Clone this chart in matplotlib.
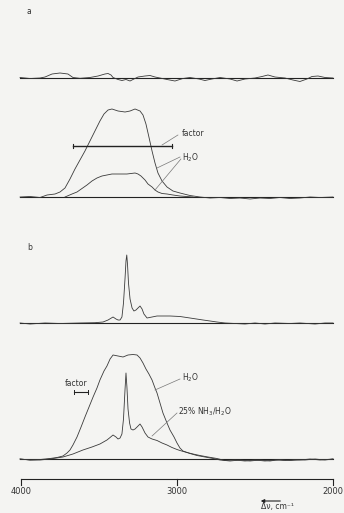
import matplotlib
matplotlib.use("Agg")
import matplotlib.pyplot as plt
import numpy as np

# ---------------- data (wavenumber, cm^-1 ; intensity, arb. units) ----------------
# panel a, top: difference spectrum
nu_a_diff = [4006, 3942, 3878, 3846, 3801, 3750, 3699, 3667, 3622, 3558,
             3506, 3462, 3442, 3423, 3410, 3378, 3353, 3327, 3301, 3276,
             3250, 3205, 3173, 3141, 3109, 3064, 3013, 2962, 2917, 2859,
             2821, 2776, 2724, 2660, 2615, 2564, 2500, 2455, 2417, 2372,
             2308, 2257, 2212, 2167, 2135, 2096, 2051, 2000]
int_a_diff = [0.5, -0.5, 0, 1, 4, 5, 4, 0.5, -0.3, 0.5,
              2, 4, 4.5, 3, 0.5, -1.5, -2.5, -1.5, -3, -1,
              1, 2, 2.5, 1, 0, -1.5, -3, -0.5, 0.5, -1,
              -2.5, -1, 0.5, -1, -3, -1, 0, 1.5, 3, 1,
              0, -2, -3.5, -1, 1.5, 2, 0.5, 0]

# panel a, bottom: H2O multiplied by factor
nu_a_h2o_f = [4006, 3942, 3878, 3833, 3782, 3750, 3718, 3686, 3654, 3622,
              3590, 3558, 3526, 3494, 3468, 3442, 3417, 3378, 3333, 3301,
              3269, 3237, 3218, 3199, 3180, 3160, 3141, 3122, 3096, 3064,
              3026, 2981, 2917, 2853, 2788, 2724, 2660, 2596, 2532, 2468,
              2404, 2340, 2276, 2212, 2147, 2083, 2000]
int_a_h2o_f = [0, 0.5, -0.5, 2, 3, 5, 9, 18, 28, 37,
               46, 56, 66, 76, 83, 87, 88, 86, 85, 86,
               88, 86, 82, 73, 60, 46, 34, 24, 16, 10,
               6, 4, 1.5, 0, -1, -0.5, -1.5, -1, -2, -1,
               -1.5, -0.5, -1.5, -1, 0, -0.5, 0]

# panel a, bottom: H2O
nu_a_h2o = [3718, 3673, 3641, 3609, 3577, 3545, 3513, 3481, 3449, 3417,
            3385, 3353, 3321, 3295, 3269, 3250, 3231, 3205, 3186, 3160,
            3141, 3122, 3096, 3064, 3026, 2981, 2897]
int_a_h2o = [0, 3, 5, 8.5, 12, 16, 19, 21, 22, 23,
             23, 23, 23, 23.5, 24, 23, 21, 17, 13, 10,
             7, 5, 3.5, 3, 2, 1, 0]

# panel b, top: NH3 spectrum
nu_b_nh3 = [4006, 3942, 3846, 3750, 3622, 3526, 3474, 3442, 3410, 3391,
            3378, 3365, 3353, 3343, 3333, 3327, 3322, 3317, 3311, 3301,
            3288, 3276, 3263, 3250, 3237, 3224, 3212, 3192, 3160, 3128,
            3077, 3045, 2981, 2917, 2833, 2788, 2744, 2692, 2628, 2564,
            2500, 2436, 2372, 2276, 2212, 2115, 2051, 2000]
int_b_nh3 = [0, -1, 0, -0.5, 0, 0.3, 1, 3, 6, 4,
             3, 3, 6, 20, 45, 62, 68, 58, 40, 24,
             15, 12, 13, 15, 17, 14, 9, 5, 6, 7,
             7, 7, 6.5, 5, 3, 2, 1, 0, -0.5, -1,
             0, -1, 0, -0.5, 0, -1, 0, 0]

# panel b, bottom: H2O
nu_b_h2o = [4006, 3942, 3878, 3814, 3769, 3731, 3705, 3686, 3667, 3641,
            3615, 3590, 3564, 3538, 3513, 3494, 3468, 3449, 3429, 3410,
            3378, 3346, 3314, 3282, 3256, 3237, 3218, 3199, 3180, 3160,
            3141, 3128, 3109, 3090, 3064, 3045, 3019, 3000, 2981, 2962,
            2917, 2872, 2821, 2769, 2724, 2660, 2596, 2532, 2468, 2404,
            2340, 2276, 2212, 2147, 2083, 2000]
int_b_h2o = [0, -1, -0.5, 0.5, 1.5, 3, 6, 9, 14, 22,
             32, 42, 52, 62, 71, 79, 88, 93, 100, 104,
             103, 102, 104, 104.5, 104, 101, 96, 90, 85, 79,
             71, 66, 56, 46, 36, 29, 22, 16, 11, 8,
             5.5, 3.5, 2, 0.5, -1, -2, -1, -2, -1, -2,
             -0.5, -1.5, -1, 0, -1, 0]

# panel b, bottom: 25% NH3/H2O
nu_b_mix = [4006, 3942, 3878, 3814, 3731, 3667, 3603, 3545, 3494, 3449,
            3429, 3410, 3391, 3378, 3365, 3353, 3343, 3333, 3327, 3321,
            3314, 3304, 3295, 3282, 3269, 3256, 3237, 3224, 3205, 3186,
            3160, 3128, 3096, 3064, 3032, 3000, 2981, 2936, 2897, 2853,
            2801, 2744, 2692, 2628, 2564, 2500, 2436, 2372, 2308, 2244,
            2180, 2115, 2051, 2000]
int_b_mix = [0, -1, -1, 0, 2, 5, 9, 12, 15, 19,
             21.5, 24, 22, 20, 21, 25, 40, 70, 86, 72,
             50, 36, 30, 29, 30, 32, 35, 32, 26, 22,
             20, 18.5, 16, 14, 11.5, 9.5, 8.5, 6.5, 5, 3.5,
             2, 0.5, -1.5, -1, -2, -1, -2, -1, -1.5, -0.5,
             -1, 0, -1, 0]

axis_ticks = [4000, 3000, 2000]
axis_ticklabels = ["4000", "3000", "2000"]

# ---------------- layout ----------------
BG = "#f4f4f2"
LC = "#3a3a3a"
fig = plt.figure(figsize=(3.44, 5.13), dpi=100, facecolor=BG)
ax = fig.add_axes([0, 0, 1, 1])
ax.set_facecolor(BG)
ax.set_xlim(4134.6, 1929.5)
ax.set_ylim(513, 0)
ax.axis("off")

base_a1, base_a2, base_b1, base_b2 = 78, 197, 323, 459
tw = 0.6
bw = 0.8

def trace(nu, inten, base):
    ax.plot(nu, base - np.asarray(inten, float), color=LC, lw=tw)

for b in (base_a1, base_a2, base_b1, base_b2):
    ax.plot([4006, 2000], [b, b], color="#222222", lw=bw)

trace(nu_a_diff, int_a_diff, base_a1)
trace(nu_a_h2o_f, int_a_h2o_f, base_a2)
trace(nu_a_h2o, int_a_h2o, base_a2)
trace(nu_b_nh3, int_b_nh3, base_b1)
trace(nu_b_h2o, int_b_h2o, base_b2)
trace(nu_b_mix, int_b_mix, base_b2)

fs = 5.5
tc = "#333333"
# panel labels
ax.text(3962, 12, "a", fontsize=fs, color=tc, ha="left", va="center")
ax.text(3962, 248, "b", fontsize=fs, color=tc, ha="left", va="center")

# panel a annotations
ax.plot([3667, 3032], [146, 146], color="#222222", lw=1.0)
ax.plot([3667, 3667], [144, 148], color="#222222", lw=0.8)
ax.plot([3032, 3032], [144, 148], color="#222222", lw=0.8)
ax.text(2968, 133, "factor", fontsize=fs, color=tc, ha="left", va="center")
ax.plot([3096, 2994], [145, 135], color="#777777", lw=0.5)
ax.text(2968, 158, "H$_2$O", fontsize=fs, color=tc, ha="left", va="center")
ax.plot([3128, 2981], [168, 157], color="#777777", lw=0.5)
ax.plot([3141, 2975], [190, 159], color="#777777", lw=0.5)

# panel b annotations
ax.text(3644, 383, "factor", fontsize=fs, color=tc, ha="center", va="center")
ax.plot([3660, 3571], [392, 392], color="#222222", lw=0.8)
ax.plot([3660, 3660], [390, 394], color="#222222", lw=0.7)
ax.plot([3571, 3571], [390, 394], color="#222222", lw=0.7)
ax.text(2968, 378, "H$_2$O", fontsize=fs, color=tc, ha="left", va="center")
ax.plot([3141, 2981], [390, 379], color="#777777", lw=0.5)
ax.text(2994, 412, "25% NH$_3$/H$_2$O", fontsize=fs, color=tc, ha="left", va="center")
ax.plot([3160, 3000], [436, 413], color="#777777", lw=0.5)

# bottom axis
ax.plot([4000, 2000], [479, 479], color="#222222", lw=0.8)
for t, lab in zip(axis_ticks, axis_ticklabels):
    ax.plot([t, t], [479, 485], color="#222222", lw=0.8)
    ax.text(t, 491, lab, fontsize=6, color=tc, ha="center", va="center")

ax.annotate("", xy=(2481, 501), xytext=(2320, 501),
            arrowprops=dict(arrowstyle="-|>", color="#222222", lw=0.8,
                            mutation_scale=5))
ax.text(2460, 507, "Δν, cm⁻¹", fontsize=fs, color=tc, ha="left", va="center")

fig.savefig("out.png", dpi=100, facecolor=BG)
